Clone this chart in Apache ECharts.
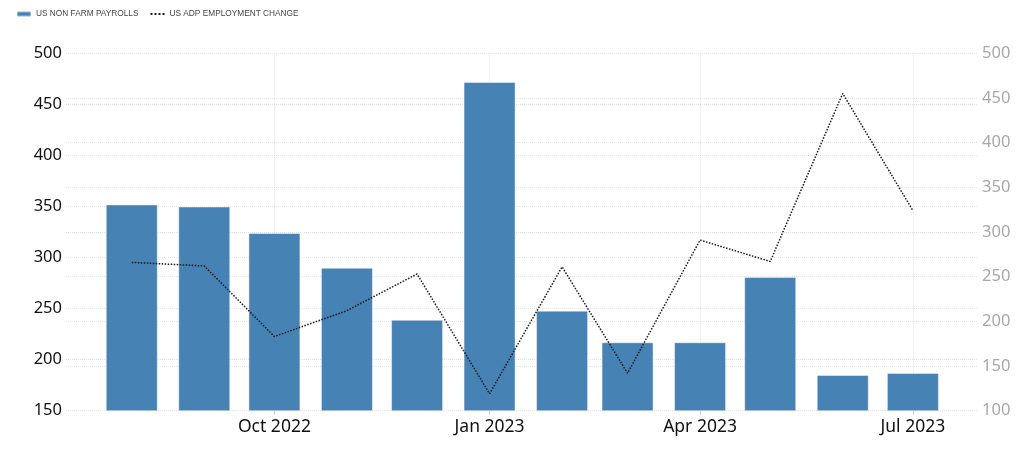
<!DOCTYPE html>
<html>
<head>
<meta charset="utf-8">
<script src="https://cdn.jsdelivr.net/npm/echarts@6/dist/echarts.min.js"></script>
<style>
  html, body { margin: 0; padding: 0; background: #fff; }
  #chart { width: 1024px; height: 458px; }
</style>
</head>
<body>
<div id="chart"></div>
<script>
// Months (first day of each month, plotted on a time axis)
const months = ['2022-08', '2022-09', '2022-10', '2022-11', '2022-12', '2023-01',
                '2023-02', '2023-03', '2023-04', '2023-05', '2023-06', '2023-07'];
// US Non Farm Payrolls (thousands) - left axis
const nonFarmPayrolls = [352, 350, 324, 290, 239, 472, 248, 217, 217, 281, 185, 187];
// US ADP Employment Change (thousands) - right axis
const adpEmploymentChange = [266, 262, 183, 212, 253, 119, 261, 142, 291, 267, 455, 324];
// Tick label month names
const monthNames = ['Jan', 'Feb', 'Mar', 'Apr', 'May', 'Jun', 'Jul', 'Aug', 'Sep', 'Oct', 'Nov', 'Dec'];
const seriesNames = ['US NON FARM PAYROLLS', 'US ADP EMPLOYMENT CHANGE'];

const DAY = 86400000;
const toTime = s => { const p = s.split('-'); return Date.UTC(+p[0], +p[1] - 1, 1); };
const times = months.map(toTime);

const chart = echarts.init(document.getElementById('chart'), null, { renderer: 'canvas' });
const labelFont = "'Noto Sans', 'DejaVu Sans', sans-serif";

chart.setOption({
  useUTC: true,
  animation: false,
  backgroundColor: '#ffffff',
  legend: {
    left: 11,
    top: 5,
    itemWidth: 14,
    itemHeight: 5,
    itemGap: 11,
    textStyle: { fontSize: 8.3, color: '#444', fontFamily: "'Liberation Sans', Arial, sans-serif" },
    data: [
      { name: seriesNames[0] },
      { name: seriesNames[1], itemStyle: { color: 'rgba(0,0,0,0)', borderColor: 'rgba(0,0,0,0)', borderWidth: 0 } }
    ]
  },
  grid: {
    left: 66, right: 47, top: 53.3, bottom: 47.3,
    containLabel: false,
    outerBoundsMode: 'none'
  },
  xAxis: {
    type: 'time',
    // the library pads the extent by half a bar width on each side
    min: times[0] - 17.0 * DAY,
    max: times[times.length - 1] + 16.3 * DAY,
    minInterval: 91 * DAY,
    maxInterval: 91 * DAY,
    axisLine: { show: false },
    axisTick: { show: true, length: 4, lineStyle: { color: '#d0d0d0' } },
    splitLine: { show: true, showMinLine: false, showMaxLine: false, lineStyle: { color: '#e6e6e6', type: 'dotted', width: 1 } },
    axisLabel: {
      fontSize: 17.5,
      color: '#111',
      fontFamily: labelFont,
      margin: 7,
      showMinLabel: false,
      showMaxLabel: false,
      formatter: function (value) {
        const d = new Date(value);
        if (d.getUTCDate() !== 1 || d.getUTCHours() !== 0) return '';
        return monthNames[d.getUTCMonth()] + ' ' + d.getUTCFullYear();
      }
    }
  },
  yAxis: [
    {
      type: 'value',
      position: 'left',
      min: 150, max: 500, interval: 50,
      axisLine: { show: false },
      axisTick: { show: false },
      axisLabel: { fontSize: 16.5, color: '#111', fontFamily: labelFont, margin: 4 },
      splitLine: { show: true, lineStyle: { color: '#e3e3e3', type: 'dotted', width: 1 } }
    },
    {
      type: 'value',
      position: 'right',
      min: 100, max: 500, interval: 50,
      axisLine: { show: false },
      axisTick: { show: false },
      axisLabel: { fontSize: 16.5, color: '#a8a8a8', fontFamily: labelFont, margin: 5 },
      splitLine: { show: true, lineStyle: { color: '#e3e3e3', type: 'dotted', width: 1 } }
    }
  ],
  series: [
    {
      name: seriesNames[0],
      type: 'bar',
      yAxisIndex: 0,
      barWidth: 52,
      itemStyle: { color: '#4682b4', borderColor: 'rgba(255,255,255,0.45)', borderWidth: 1 },
      data: times.map((t, i) => [t, nonFarmPayrolls[i]])
    },
    {
      name: seriesNames[1],
      type: 'line',
      yAxisIndex: 1,
      symbol: 'none',
      lineStyle: { color: '#1a1a1a', width: 1.5, type: 'dotted' },
      itemStyle: { color: '#1a1a1a' },
      data: times.map((t, i) => [t, adpEmploymentChange[i]])
    }
  ]
});
</script>
</body>
</html>
